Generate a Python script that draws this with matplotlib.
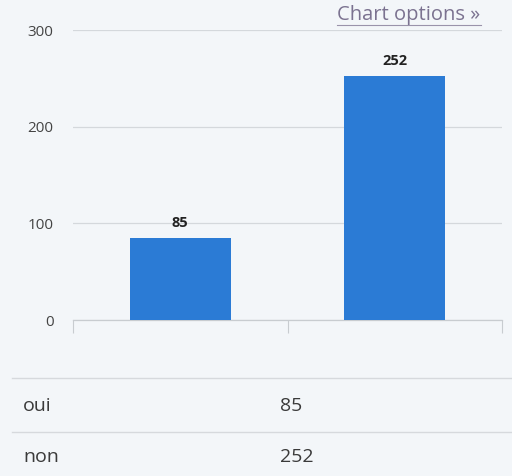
import matplotlib.pyplot as plt
import matplotlib.lines as mlines

categories = ['oui', 'non']
values = [85, 252]
y_ticks = [0, 100, 200, 300]

bg = '#f3f6f9'
bar_color = '#2b7bd5'

plt.rcParams['font.family'] = ['Open Sans', 'DejaVu Sans']

fig = plt.figure(figsize=(5.12, 4.76), dpi=100, facecolor=bg)
ax = fig.add_axes([73 / 512, 1 - 320 / 476, 429 / 512, 290 / 476])
ax.set_facecolor(bg)

x = list(range(len(categories)))
bars = ax.bar(x, values, width=0.47, color=bar_color, zorder=3)
for rect, v in zip(bars, values):
    ax.annotate(str(v), (rect.get_x() + rect.get_width() / 2, v),
                xytext=(0, 6), textcoords='offset points', ha='center', va='bottom',
                fontsize=10.5, fontweight='bold', color='#222222')

ax.set_xlim(-0.5, len(categories) - 0.5)
ax.set_ylim(0, 300)
ax.set_yticks(y_ticks)
ax.set_yticklabels([str(t) for t in y_ticks], fontsize=11, color='#444444')
ax.tick_params(axis='y', length=0, pad=14)
ax.grid(axis='y', color='#d4d8dc', linewidth=0.9, zorder=0)

# category boundaries as tick marks, no labels
ax.set_xticks([i - 0.5 for i in range(len(categories) + 1)])
ax.set_xticklabels([])
ax.tick_params(axis='x', length=9, width=0.8, color='#c8ccd0', direction='out')
for side in ['top', 'right', 'left']:
    ax.spines[side].set_visible(False)
ax.spines['bottom'].set_color('#c8ccd0')
ax.spines['bottom'].set_linewidth(0.9)

fig.text(337 / 512, 1 - 15 / 476, 'Chart options \u00bb', fontsize=14.5, color='#7b7290',
         va='center', ha='left')
fig.add_artist(mlines.Line2D([337 / 512, 481 / 512], [1 - 25 / 476, 1 - 25 / 476],
                             color='#9a93ab', linewidth=0.8))

# data table below the chart
row_lines = [378, 432]
for yl in row_lines:
    fig.add_artist(mlines.Line2D([12 / 512, 1.0], [1 - yl / 476, 1 - yl / 476],
                                 color='#d6d9dd', linewidth=1.0))
row_y = [406, 457]
for cat, v, yy in zip(categories, values, row_y):
    fig.text(23 / 512, 1 - yy / 476, cat, fontsize=14, color='#3a3a3a', va='center')
    fig.text(280 / 512, 1 - yy / 476, str(v), fontsize=14, color='#3a3a3a', va='center')

plt.savefig('out.png', dpi=100, facecolor=bg)
